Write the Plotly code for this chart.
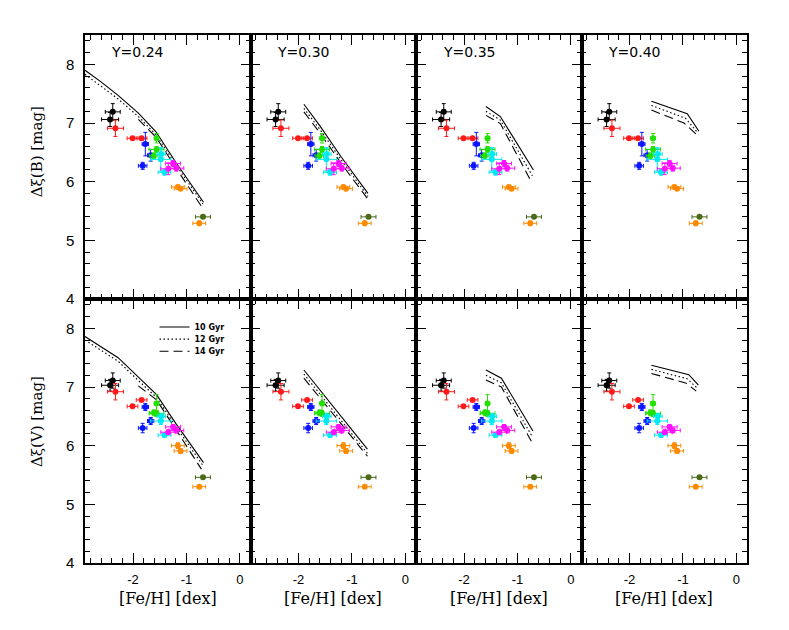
import plotly.graph_objects as go
from plotly.subplots import make_subplots

# observed clusters (same objects in both rows)
feh = [-2.38, -2.43, -2.33, -2.01, -1.84, -1.77, -1.67, -1.82, -1.56, -1.56, -1.61,
       -1.47, -1.48, -1.41, -1.25, -1.19, -1.34, -1.16, -1.11, -0.76, -0.69]
feh_err = [0.14, 0.16, 0.15, 0.10, 0.10, 0.06, 0.06, 0.08, 0.04, 0.14, 0.08,
           0.08, 0.19, 0.12, 0.14, 0.14, 0.14, 0.12, 0.12, 0.12, 0.14]
dxi_b = [7.19, 7.06, 6.91, 6.74, 6.74, 6.64, 6.45, 6.27, 6.74, 6.55, 6.44,
         6.47, 6.38, 6.16, 6.31, 6.23, 6.22, 5.91, 5.88, 5.29, 5.40]
dxi_b_err = [0.14, 0.12, 0.14, 0.02, 0.02, 0.20, 0.10, 0.06, 0.08, 0.05, 0.05,
             0.10, 0.20, 0.05, 0.05, 0.05, 0.10, 0.03, 0.03, 0.04, 0.02]
dxi_v = [7.11, 7.03, 6.92, 6.67, 6.78, 6.66, 6.42, 6.30, 6.72, 6.55, 6.56,
         6.50, 6.42, 6.18, 6.32, 6.26, 6.23, 6.00, 5.91, 5.30, 5.46]
dxi_v_err = [0.13, 0.10, 0.14, 0.02, 0.02, 0.06, 0.06, 0.08, 0.15, 0.05, 0.05,
             0.05, 0.06, 0.04, 0.04, 0.04, 0.04, 0.05, 0.04, 0.02, 0.02]
group = [0, 0, 1, 1, 1, 2, 2, 2, 3, 3, 3, 4, 4, 4, 5, 5, 5, 6, 6, 6, 7]

helium = ["Y=0.24", "Y=0.30", "Y=0.35", "Y=0.40"]
ages = ["10 Gyr", "12 Gyr", "14 Gyr"]

# model relations: [10 Gyr, 12 Gyr, 14 Gyr]
b_y024_feh = [[-2.9, -2.6, -2.28, -1.9, -1.57, -1.2, -0.68],
              [-2.9, -2.6, -2.28, -1.9, -1.57, -1.2, -0.69],
              [-1.9, -1.57, -1.2, -0.72]]
b_y024_dxi = [[7.90, 7.70, 7.47, 7.17, 6.85, 6.33, 5.65],
              [7.83, 7.63, 7.41, 7.11, 6.80, 6.29, 5.62],
              [7.06, 6.76, 6.24, 5.58]]
b_y030_feh = [[-1.9, -1.6, -1.2, -0.70]] * 3
b_y030_dxi = [[7.32, 6.95, 6.42, 5.80],
              [7.25, 6.89, 6.37, 5.75],
              [7.19, 6.83, 6.31, 5.70]]
b_y035_feh = [[-1.59, -1.32, -0.70], [-1.59, -1.32, -0.72], [-1.59, -1.32, -0.74]]
b_y035_dxi = [[7.28, 7.11, 6.20], [7.20, 7.05, 6.10], [7.13, 6.99, 6.00]]
b_y040_feh = [[-1.59, -0.92, -0.70], [-1.59, -0.95, -0.72], [-1.59, -0.98, -0.74]]
b_y040_dxi = [[7.37, 7.16, 6.86], [7.30, 7.08, 6.83], [7.22, 7.00, 6.80]]

v_y024_feh = [[-2.9, -2.6, -2.28, -1.9, -1.56, -1.2, -0.68],
              [-2.9, -2.6, -2.28, -1.9, -1.56, -1.2, -0.69],
              [-1.9, -1.56, -1.2, -0.72]]
v_y024_dxi = [[7.86, 7.68, 7.50, 7.17, 6.87, 6.38, 5.71],
              [7.80, 7.62, 7.44, 7.11, 6.82, 6.33, 5.66],
              [7.02, 6.78, 6.28, 5.60]]
v_y030_feh = [[-1.9, -1.6, -1.2, -0.71]] * 3
v_y030_dxi = [[7.29, 6.95, 6.50, 5.94],
              [7.22, 6.88, 6.43, 5.87],
              [7.15, 6.82, 6.37, 5.82]]
v_y035_feh = [[-1.59, -1.30, -0.71], [-1.59, -1.30, -0.72], [-1.59, -1.30, -0.73]]
v_y035_dxi = [[7.29, 7.15, 6.25], [7.20, 7.07, 6.15], [7.12, 7.00, 6.06]]
v_y040_feh = [[-1.59, -0.89, -0.71], [-1.59, -0.92, -0.73], [-1.59, -0.95, -0.75]]
v_y040_dxi = [[7.37, 7.21, 7.03], [7.30, 7.14, 6.98], [7.23, 7.07, 6.93]]

xticks = [-2, -1, 0]
xtick_text = ["-2", "-1", "0"]

palette = ["#000000", "#ff1a1a", "#0a14ff", "#22e000", "#00e8f0", "#ff10ff", "#ff8a00", "#4a6a18"]
dashes = ["solid", "1.5px,2.5px", "9px,5px"]
legend_ids = ["legend", "legend2", "legend3"]

rows = [
    (1, dxi_b, dxi_b_err, [(b_y024_feh, b_y024_dxi), (b_y030_feh, b_y030_dxi),
                           (b_y035_feh, b_y035_dxi), (b_y040_feh, b_y040_dxi)]),
    (2, dxi_v, dxi_v_err, [(v_y024_feh, v_y024_dxi), (v_y030_feh, v_y030_dxi),
                           (v_y035_feh, v_y035_dxi), (v_y040_feh, v_y040_dxi)]),
]

fig = make_subplots(rows=2, cols=4, horizontal_spacing=0, vertical_spacing=0)

for row, dxi, dxi_err, models in rows:
    for col, (mx, my) in enumerate(models, start=1):
        for k, age in enumerate(ages):
            fig.add_trace(go.Scatter(
                x=mx[k], y=my[k], mode="lines", name=age,
                line=dict(color="black", width=1.1, dash=dashes[k]),
                showlegend=(row == 2 and col == 1), legend=legend_ids[k],
                hoverinfo="skip",
            ), row=row, col=col)
        for g, color in enumerate(palette):
            idx = [i for i, gi in enumerate(group) if gi == g]
            fig.add_trace(go.Scatter(
                x=[feh[i] for i in idx], y=[dxi[i] for i in idx], mode="markers",
                marker=dict(color=color, size=6, symbol="circle"),
                error_x=dict(type="data", array=[feh_err[i] for i in idx],
                             color=color, thickness=1, width=2),
                error_y=dict(type="data", array=[dxi_err[i] for i in idx],
                             color=color, thickness=1, width=2),
                showlegend=False,
            ), row=row, col=col)

axis_common = dict(
    showline=True, linecolor="black", linewidth=1.5, mirror="allticks",
    ticks="inside", ticklen=10, tickwidth=1.2, tickcolor="black",
    showgrid=False, zeroline=False,
    minor=dict(dtick=0.2, ticks="inside", ticklen=5, tickwidth=1, tickcolor="black"),
)
fig.update_xaxes(range=[-2.9, 0.2], tickvals=xticks, ticktext=xtick_text,
                 tickfont=dict(family="Liberation Sans", size=13, color="black"),
                 ticklabelstandoff=4, **axis_common)
fig.update_yaxes(range=[4, 8.5], tickvals=[4, 5, 6, 7, 8],
                 tickfont=dict(family="Liberation Sans", size=15, color="black"),
                 ticklabelstandoff=6, **axis_common)
fig.update_xaxes(showticklabels=False, row=1)
for c in (2, 3, 4):
    fig.update_yaxes(showticklabels=False, col=c)


def axref(i):
    return "" if i == 1 else str(i)


ann = []
for i, label in enumerate(helium, start=1):
    ann.append(dict(text=label, xref=f"x{axref(i)} domain", yref=f"y{axref(i)} domain",
                    x=0.32, y=0.935, showarrow=False, xanchor="center", yanchor="middle",
                    font=dict(family="DejaVu Sans", size=14, color="black")))
for i in range(5, 9):
    ann.append(dict(text="[Fe/H] [dex]", xref=f"x{i} domain", yref="paper",
                    x=0.5, y=-0.068, showarrow=False, xanchor="center", yanchor="middle",
                    font=dict(family="DejaVu Serif", size=16, color="black")))
ann.append(dict(text="Δξ(B) [mag]", xref="paper", yref="paper", x=-0.0725, y=0.778,
                textangle=-90, showarrow=False, xanchor="center", yanchor="middle",
                font=dict(family="DejaVu Serif", size=15, color="black")))
ann.append(dict(text="Δξ(V) [mag]", xref="paper", yref="paper", x=-0.0725, y=0.267,
                textangle=-90, showarrow=False, xanchor="center", yanchor="middle",
                font=dict(family="DejaVu Serif", size=15, color="black")))

legend_style = dict(x=0.105, xanchor="left", yanchor="middle", bgcolor="rgba(0,0,0,0)",
                    itemwidth=30,
                    font=dict(family="DejaVu Sans", size=8, color="black", weight="bold"))

fig.update_layout(
    width=789, height=630,
    margin=dict(l=77, r=50, t=27, b=75),
    template="simple_white",
    plot_bgcolor="white", paper_bgcolor="white",
    annotations=ann,
    showlegend=True,
    legend=dict(y=0.447, **legend_style),
    legend2=dict(y=0.424, **legend_style),
    legend3=dict(y=0.401, **legend_style),
)

fig.write_html("out.html")
